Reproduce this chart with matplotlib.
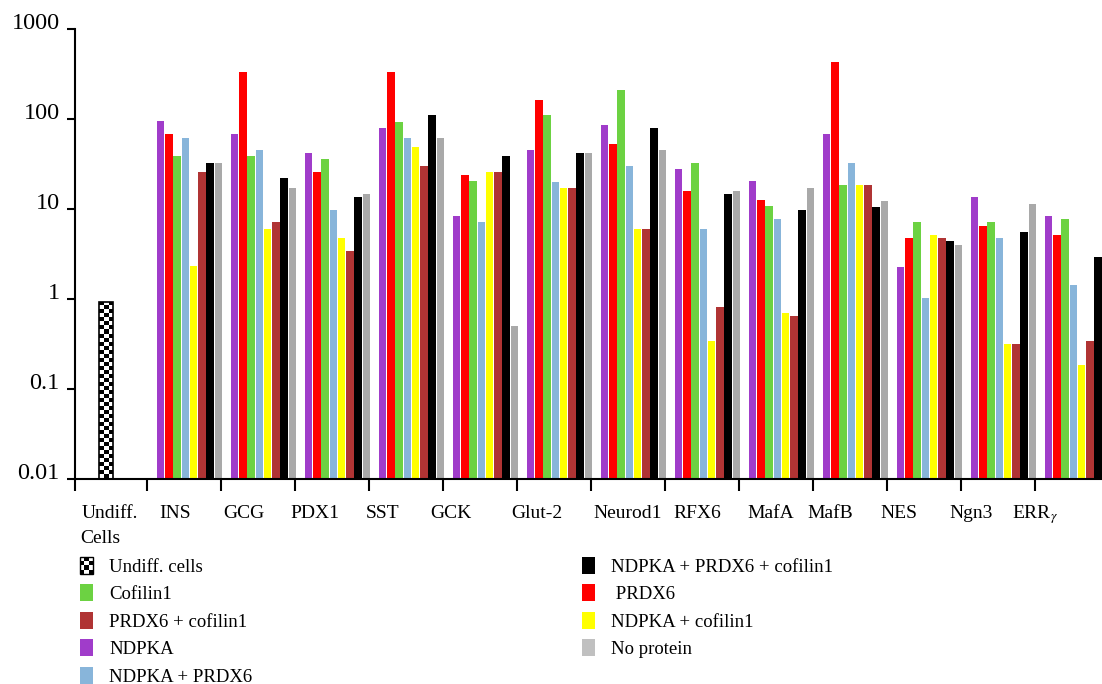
import numpy as np
import matplotlib
matplotlib.use('Agg')
import matplotlib.pyplot as plt
import matplotlib.transforms as mtransforms
from matplotlib.patches import Patch, Rectangle
from matplotlib.legend_handler import HandlerBase

plt.rcParams['font.family'] = ['Liberation Serif', 'DejaVu Serif']
plt.rcParams['mathtext.fontset'] = 'stix'

# Dados (escala log)
genes = ['INS', 'GCG', 'PDX1', 'SST', 'GCK', 'Glut-2', 'Neurod1', 'RFX6',
         'MafA', 'MafB', 'NES', 'Ngn3', r'ERR$_\gamma$']
undiff = 0.93

ndpka = [95, 68, 42, 80, 8.4, 45, 86, 28, 20.6, 68, 2.3, 13.7, 8.4]
prdx6 = [68, 335, 26, 335, 24, 164, 53, 16, 12.7, 432, 4.8, 6.5, 5.2]
cofilin1 = [39, 39, 36, 93, 20.6, 111, 211, 32.7, 10.9, 18.6, 7.2, 7.2, 7.8]
ndpka_prdx6 = [62, 45, 9.8, 62, 7.2, 20, 30, 6.0, 7.8, 32.7, 1.03, 4.8, 1.44]
ndpka_cof = [2.34, 6.0, 4.8, 49, 26, 17.2, 6.0, 0.335, 0.69, 18.6, 5.2, 0.31, 0.177]
prdx6_cof = [26, 7.2, 3.4, 30, 26, 17.2, 6.0, 0.80, 0.64, 18.6, 4.8, 0.31, 0.335]
all_three = [32.7, 22, 13.7, 111, 39, 42, 80, 14.8, 9.8, 10.6, 4.4, 5.6, 2.95]
no_protein = [32.7, 17.2, 14.8, 62, 0.5, 42, 45.5, 16, 17.2, 12.3, 4.0, 11.4, np.nan]

series = [ndpka, prdx6, cofilin1, ndpka_prdx6, ndpka_cof, prdx6_cof, all_three, no_protein]
colors = ['#A03CCA', '#FF0000', '#6CD242', '#88B5DA', '#FFFF00', '#B03434', '#000000', '#A9A9A9']

# Layout (unidades em "pixels" do eixo x)
group_start = 156.5
group_step = 74
bar_step = 8.25
undiff_x = 105.5
label_x = [175, 244, 314.5, 383, 451, 536.7, 628, 697, 771, 830, 898.7, 971, 1034.7]
edges = [75] + [146.7 + 74 * k for k in range(13)]

fig = plt.figure(figsize=(11.02, 6.84), dpi=100)
ax = fig.add_axes([75 / 1102, (684 - 479.3) / 684, 1027 / 1102, 450.1 / 684])
ax.set_yscale('log')

idx = np.arange(len(genes))
for j, (vals, c) in enumerate(zip(series, colors)):
    x = group_start + group_step * idx + bar_step * j + bar_step / 2
    ax.bar(x, vals, width=bar_step - 0.6, color=c, bottom=0.01, zorder=2)

# Barra quadriculada (celulas indiferenciadas)
ub = ax.bar(undiff_x, undiff - 0.01, width=14, bottom=0.01, fill=False,
            edgecolor='black', linewidth=1.2, zorder=3)[0]
frac = (np.log10(undiff) + 2) / 5
nrows = int(frac * 450 / 4)
checker = (np.add.outer(np.arange(nrows), np.arange(3)) % 2).astype(float)
trans = mtransforms.blended_transform_factory(ax.transData, ax.transAxes)
im = ax.imshow(checker, cmap='gray', extent=(undiff_x - 7, undiff_x + 7, 0, frac),
               transform=trans, aspect='auto', interpolation='nearest', zorder=2)
im.set_clip_path(ub)

ax.set_xlim(75, 1102)
ax.set_ylim(0.01, 1000)
ax.set_yticks([0.01, 0.1, 1, 10, 100, 1000])
ax.set_yticklabels(['0.01', '0.1', '1', '10', '100', '1000'], fontsize=17.5)
ax.yaxis.set_minor_locator(matplotlib.ticker.NullLocator())
for lab in ax.get_yticklabels():
    lab.set_va('baseline')
ax.set_xticks(edges)
ax.set_xticklabels([])

ax.spines['top'].set_visible(False)
ax.spines['right'].set_visible(False)
ax.spines['left'].set_linewidth(1.5)
ax.spines['bottom'].set_linewidth(1.5)
ax.tick_params(axis='y', length=6, width=1.5, pad=5)
ax.tick_params(axis='x', length=8.5, width=1.5)

for xl, g in zip(label_x, genes):
    ax.text(xl, -0.086, g, transform=trans, ha='center', va='baseline', fontsize=14)
ax.text(81.5, -0.086, 'Undiff.', transform=trans, ha='left', va='baseline', fontsize=14)
ax.text(80, -0.1415, 'Cells', transform=trans, ha='left', va='baseline', fontsize=14)


class CheckerHandler(HandlerBase):
    def create_artists(self, legend, orig_handle, xdescent, ydescent,
                       width, height, fontsize, trans):
        arts = [Rectangle((-xdescent, -ydescent), width, height, facecolor='white',
                          edgecolor='black', lw=1, transform=trans)]
        w, h = width / 3, height / 4
        for i in range(3):
            for k in range(4):
                if (i + k) % 2 == 0:
                    arts.append(Rectangle((-xdescent + i * w, -ydescent + k * h), w, h,
                                          facecolor='black', lw=0, transform=trans))
        return arts


class Checker:
    pass


labels = ['Undiff. cells', 'Cofilin1', 'PRDX6 + cofilin1', 'NDPKA', 'NDPKA + PRDX6',
          'NDPKA + PRDX6 + cofilin1', ' PRDX6', 'NDPKA + cofilin1', 'No protein']
leg_colors = [None, colors[2], colors[5], colors[0], colors[3],
              colors[6], colors[1], colors[4], '#C0C0C0']
handles = [Checker()] + [Patch(facecolor=c) for c in leg_colors[1:]]
fig.legend(handles, labels, loc='upper left', bbox_to_anchor=(80 / 1102, 1 - 557 / 684),
           ncol=2, frameon=False, fontsize=13.5, handlelength=0.7, handleheight=1.0,
           handletextpad=0.85, labelspacing=0.46, columnspacing=17.6,
           borderpad=0, borderaxespad=0, handler_map={Checker: CheckerHandler()})

plt.savefig('out.png', dpi=100)
